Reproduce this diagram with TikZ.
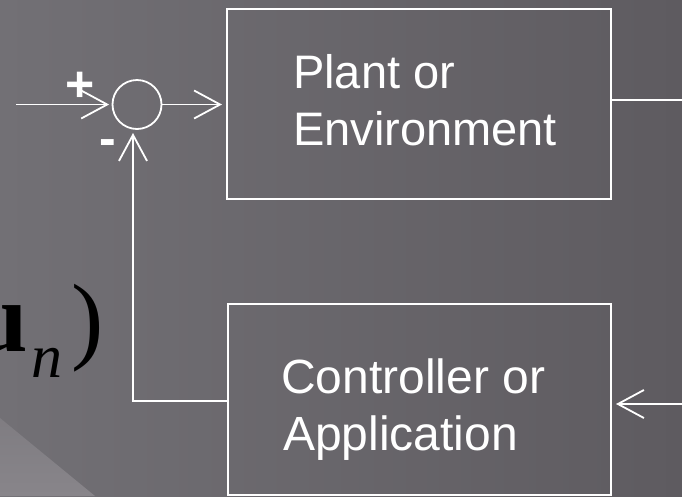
\documentclass[tikz,border=0pt]{standalone}
\usepackage{fontspec}
\setmainfont{Liberation Sans}
\newfontfamily\serifm{Liberation Serif}
\usetikzlibrary{arrows.meta}
\definecolor{bgL}{HTML}{727075}
\definecolor{bgR}{HTML}{5E5B60}
\definecolor{bgC}{HTML}{88858A}
\begin{document}
\begin{tikzpicture}[x=1pt,y=-1pt,
  wire/.style={draw=white,line width=1.8pt},
  arr/.style={wire,-{Straight Barb[length=26pt,width=28pt]}},
  blockbox/.style={draw=white,line width=2pt,rectangle,inner sep=0pt},
  lbl/.style={text=white,inner sep=0pt,anchor=base west},
  sign/.style={text=white,font=\bfseries\fontsize{50}{50}\selectfont,inner sep=0pt,anchor=base},
  mathtxt/.style={text=black,inner sep=0pt,anchor=base west},
]
\useasboundingbox (0,0) rectangle (682,496);
\clip (0,0) rectangle (682,496);
% background
\shade[left color=bgL,right color=bgR] (0,0) rectangle (682,496);
\shade[top color=bgC!60!bgL,bottom color=bgC] (0,418) -- (95,496) -- (0,496) -- cycle;

% partial formula at left
\node[mathtxt,anchor=base east,font=\serifm\bfseries\fontsize{100}{100}\selectfont] (uvec) at (28,351) {u};
\node[mathtxt,font=\serifm\itshape\fontsize{62}{62}\selectfont] (sub) at (31,377) {n};
\node[mathtxt,font=\serifm\fontsize{97}{97}\selectfont] (par) at (71,351) {)};

% blocks
\node[blockbox,minimum width=384pt,minimum height=190pt] (plant) at (419,103.5) {};
\node[blockbox,minimum width=383pt,minimum height=191pt] (ctrl) at (419.5,399.5) {};
\node[lbl,font=\fontsize{47}{57}\selectfont] (plantA) at (293,88) {Plant or};
\node[lbl,font=\fontsize{47}{57}\selectfont] (plantB) at (293,145) {Environment};
\node[lbl,font=\fontsize{48}{57}\selectfont] (ctrlA) at (281,393) {Controller or};
\node[lbl,font=\fontsize{48}{57}\selectfont] (ctrlB) at (283,450) {Application};

% summing junction
\node[circle,draw=white,line width=1.8pt,minimum size=49pt,inner sep=0pt] (sum) at (137,104.5) {};
\node[sign] (plus) at (80,101) {+};
\node[sign] (minus) at (108,155) {-};

% coordinates
\coordinate (inS) at (16,104.5);
\coordinate (outR) at (682,100);
\coordinate (fbR) at (682,404);
\coordinate (fbL) at (133,401);
\coordinate (fbT) at (133,133);

% connectors
\draw[arr,shorten >=2.5pt] (inS) -- (sum.west);
\draw[arr,shorten >=4pt] (sum.east) -- (plant.west |- sum.east);
\draw[wire] (plant.east |- outR) -- (outR);
\draw[arr,shorten >=4pt] (fbR) -- (ctrl.east |- fbR);
\draw[arr] (ctrl.west |- fbL) -- (fbL) -- (fbT);
\end{tikzpicture}
\end{document}
